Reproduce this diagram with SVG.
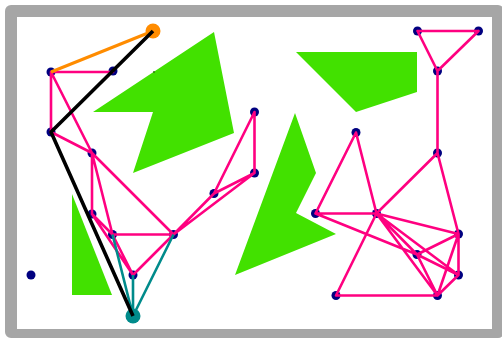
<svg xmlns="http://www.w3.org/2000/svg" width="502" height="340" viewBox="0 0 502 340">
<style>
.obs{fill:#42e100;stroke:none}
.n{fill:#000080}
.p{stroke:#ff0080;stroke-width:2.6;fill:none;stroke-linecap:round}
.t{stroke:#008b8b;stroke-width:2.6;fill:none}
.o{stroke:#ff8c00;stroke-width:3;fill:none}
.b{stroke:#000;stroke-width:3.6;fill:none;stroke-linejoin:round}
</style>
<rect x="5" y="5" width="499" height="333" rx="6" fill="#a6a6a6"/>
<rect x="17" y="17" width="475" height="312" fill="#fff"/>
<g id="obstacles">
<polygon class="obs" points="214,32 234,133 133,173 153,112 93,112"/>
<polygon class="obs" points="72,194 112,295 72,295"/>
<polygon class="obs" points="295,113 316,173 296,213 336,234 235,275"/>
<polygon class="obs" points="296,52 417,52 417,92 356,112"/>
<circle cx="154" cy="72" r="0.9" fill="#2a6a10"/>
</g>
<g id="nodes">
<g id="A"><circle class="n" cx="51" cy="72" r="4.5"/></g>
<g id="B"><circle class="n" cx="113" cy="71" r="4.5"/></g>
<g id="C"><circle class="n" cx="51" cy="132" r="4.5"/></g>
<g id="D"><circle class="n" cx="92" cy="153" r="4.5"/></g>
<g id="E"><circle class="n" cx="92" cy="214" r="4.5"/></g>
<g id="F"><circle class="n" cx="112.5" cy="234.5" r="4.5"/></g>
<g id="G"><circle class="n" cx="133" cy="275" r="4.5"/></g>
<g id="H"><circle class="n" cx="173.5" cy="234.5" r="4.5"/></g>
<g id="I"><circle class="n" cx="214" cy="193.5" r="4.5"/></g>
<g id="J"><circle class="n" cx="254.5" cy="112" r="4.5"/></g>
<g id="K"><circle class="n" cx="254.5" cy="173" r="4.5"/></g>
<g id="L"><circle class="n" cx="31" cy="275" r="4.5"/></g>
<g id="M"><circle class="n" cx="417.5" cy="31" r="4.5"/></g>
<g id="N"><circle class="n" cx="478.5" cy="31" r="4.5"/></g>
<g id="O"><circle class="n" cx="437.5" cy="71" r="4.5"/></g>
<g id="P"><circle class="n" cx="356" cy="132.5" r="4.5"/></g>
<g id="Q"><circle class="n" cx="437.5" cy="153" r="4.5"/></g>
<g id="R"><circle class="n" cx="315.5" cy="213.5" r="4.5"/></g>
<g id="S"><circle class="n" cx="376.5" cy="213.5" r="4.5"/></g>
<g id="T"><circle class="n" cx="458.5" cy="234" r="4.5"/></g>
<g id="U"><circle class="n" cx="417" cy="254.5" r="4.5"/></g>
<g id="V"><circle class="n" cx="458.5" cy="275" r="4.5"/></g>
<g id="W"><circle class="n" cx="336" cy="295.5" r="4.5"/></g>
<g id="X"><circle class="n" cx="437.5" cy="295.5" r="4.5"/></g>
<g id="start"><circle cx="153" cy="31" r="7.5" fill="#ff8c00"/></g>
<g id="goal"><circle cx="133" cy="316" r="7.5" fill="#008b8b"/></g>
</g>
<g id="connectors">
<path class="p" d="M51,72H113M51,72V132M51,72L92,153M51,132L92,153M92,153V214M92,153L112.5,234.5M92,153L173.5,234.5M92,214L112.5,234.5M92,214L133,275M112.5,234.5H173.5M112.5,234.5L133,275M133,275L173.5,234.5M173.5,234.5L214,193.5M173.5,234.5L254.5,173M214,193.5L254.5,173M214,193.5L254.5,112M254.5,112V173"/>
<path class="p" d="M417.5,31H478.5M417.5,31L437.5,71M478.5,31L437.5,71M437.5,71V153M356,132.5L315.5,213.5M356,132.5L376.5,213.5M437.5,153L376.5,213.5M437.5,153L458.5,234M315.5,213.5H376.5M315.5,213.5L417,254.5M417,254.5L458.5,275M376.5,213.5L458.5,234M376.5,213.5L458.5,275M376.5,213.5L437.5,295.5M376.5,213.5L417,254.5M376.5,213.5L336,295.5M417,254.5L458.5,234M458.5,234V275M458.5,234L437.5,295.5M458.5,275L437.5,295.5M336,295.5H437.5M417,254.5L437.5,295.5"/>
<path class="t" d="M112.5,234.5L133,316M133,275V316M173.5,234.5L133,316"/>
<path class="o" d="M153,31L51,72"/>
<path class="b" d="M153,31L51,132L133,316"/>
</g>
</svg>
